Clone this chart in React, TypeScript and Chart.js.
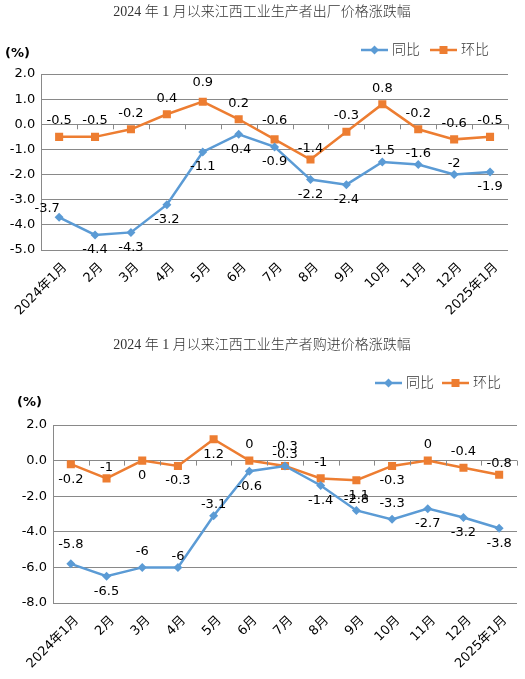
import { useEffect, useRef } from 'react';
import { Chart, registerables } from 'chart.js';

Chart.register(...registerables);

// categories
const months = ['2024年1月', '2月', '3月', '4月', '5月', '6月', '7月', '8月', '9月', '10月', '11月', '12月', '2025年1月'];

// 出厂价格 (ex-factory prices), %
const exFactoryYoY = [-3.7, -4.4, -4.3, -3.2, -1.1, -0.4, -0.9, -2.2, -2.4, -1.5, -1.6, -2, -1.9];
const exFactoryMoM = [-0.5, -0.5, -0.2, 0.4, 0.9, 0.2, -0.6, -1.4, -0.3, 0.8, -0.2, -0.6, -0.5];

// 购进价格 (purchase prices), %
const purchaseYoY = [-5.8, -6.5, -6, -6, -3.1, -0.6, -0.3, -1.4, -2.8, -3.3, -2.7, -3.2, -3.8];
const purchaseMoM = [-0.2, -1, 0, -0.3, 1.2, 0, -0.3, -1, -1.1, -0.3, 0, -0.4, -0.8];

const seriesNames = ['同比', '环比'];

// where each value label sits relative to its point:
// a = above, ah = higher above, as = just above, b = below, al = above-left
const exFactoryYoYPos = ['al', 'b', 'b', 'b', 'b', 'b', 'b', 'b', 'b', 'as', 'as', 'as', 'b'];
const exFactoryMoMPos = ['a', 'a', 'a', 'a', 'ah', 'a', 'ah', 'as', 'a', 'a', 'a', 'a', 'a'];
const purchaseYoYPos = ['ah', 'b', 'a', 'as', 'as', 'b', 'as', 'b', 'as', 'a', 'b', 'b', 'b'];
const purchaseMoMPos = ['b', 'as', 'b', 'b', 'b', 'a', 'ah', 'a', 'b', 'b', 'a', 'a', 'as'];

const BLUE = '#5b9bd5';
const ORANGE = '#ed7d31';
const GRID = '#898989';
const SANS = "'DejaVu Sans', 'Noto Sans CJK SC', sans-serif";
const SERIF = "'Liberation Serif', 'Noto Sans CJK SC', serif";

const labelOffsets: Record<string, [number, number]> = {
    a: [0, -16],
    ah: [0, -19],
    as: [0, -11],
    b: [0, 15],
    al: [-12, -9],
};

// value labels, legend, title, unit and the small ticks on the zero line
const decorPlugin = {
    id: 'decor',
    afterDraw(chart: any, _args: any, opts: any) {
        const { ctx, chartArea, scales } = chart;
        ctx.save();

        // ticks on the zero line at category boundaries
        const y0 = scales.y.getPixelForValue(0);
        const n = chart.data.labels.length;
        const step = chartArea.width / n;
        ctx.strokeStyle = GRID;
        ctx.lineWidth = 1;
        ctx.beginPath();
        for (let i = 0; i <= n; i++) {
            const x = Math.round(chartArea.left + i * step) + 0.5;
            ctx.moveTo(x, y0);
            ctx.lineTo(x, y0 + 5);
        }
        ctx.stroke();

        // value labels
        ctx.font = `13px ${SANS}`;
        ctx.fillStyle = '#000';
        ctx.textAlign = 'center';
        ctx.textBaseline = 'middle';
        chart.data.datasets.forEach((ds: any, di: number) => {
            const meta = chart.getDatasetMeta(di);
            const pos = opts.labelPos[di];
            meta.data.forEach((pt: any, i: number) => {
                const [dx, dy] = labelOffsets[pos[i]];
                ctx.fillText(String(ds.data[i]), pt.x + dx, pt.y + dy);
            });
        });

        // title
        ctx.font = `300 14px ${SERIF}`;
        ctx.fillStyle = '#333';
        ctx.fillText(opts.title, opts.titleX, opts.titleY);

        // unit
        ctx.font = `bold 13px ${SANS}`;
        ctx.fillStyle = '#000';
        ctx.textAlign = 'left';
        ctx.fillText('(%)', opts.unitX, opts.unitY);

        // legend
        chart.data.datasets.forEach((ds: any, di: number) => {
            const x = opts.legendX[di];
            const y = opts.legendY;
            ctx.strokeStyle = ds.borderColor;
            ctx.fillStyle = ds.borderColor;
            ctx.lineWidth = 2.5;
            ctx.beginPath();
            ctx.moveTo(x, y);
            ctx.lineTo(x + 27, y);
            ctx.stroke();
            const mx = x + 13.5;
            ctx.beginPath();
            if (ds.pointStyle === 'rect') {
                ctx.rect(mx - 4, y - 4, 8, 8);
            } else {
                ctx.moveTo(mx, y - 4.5);
                ctx.lineTo(mx + 4.5, y);
                ctx.lineTo(mx, y + 4.5);
                ctx.lineTo(mx - 4.5, y);
                ctx.closePath();
            }
            ctx.fill();
            ctx.font = `300 14px ${SERIF}`;
            ctx.fillStyle = '#333';
            ctx.textAlign = 'left';
            ctx.fillText(ds.label, x + 31, y);
        });

        ctx.restore();
    },
};

interface PanelProps {
    top: number,
    height: number,
    yoy: number[],
    mom: number[],
    yMin: number,
    yMax: number,
    yStep: number,
    padding: { top: number, right: number },
    yWidth: number,
    xHeight: number,
    decor: any,
}

const PricePanel = (props: PanelProps) => {
    const canvasRef = useRef<HTMLCanvasElement>(null);

    useEffect(() => {
        const ctx = canvasRef.current?.getContext('2d');
        if (!ctx) return;

        const chart = new Chart(ctx, {
            type: 'line',
            data: {
                labels: months,
                datasets: [
                    {
                        label: seriesNames[0],
                        data: props.yoy,
                        borderColor: BLUE,
                        backgroundColor: BLUE,
                        borderWidth: 2.5,
                        pointStyle: 'rectRot',
                        pointRadius: 4.5,
                        pointBorderWidth: 0,
                        tension: 0,
                    },
                    {
                        label: seriesNames[1],
                        data: props.mom,
                        borderColor: ORANGE,
                        backgroundColor: ORANGE,
                        borderWidth: 2.5,
                        pointStyle: 'rect',
                        pointRadius: 5.7,
                        pointBorderWidth: 0,
                        tension: 0,
                    },
                ],
            },
            options: {
                responsive: false,
                animation: false,
                layout: { padding: { top: props.padding.top, right: props.padding.right, left: 0, bottom: 0 } },
                scales: {
                    x: {
                        offset: true,
                        grid: { display: false, drawTicks: false },
                        border: { display: false },
                        ticks: {
                            autoSkip: false,
                            minRotation: 45,
                            maxRotation: 45,
                            padding: 10,
                            labelOffset: 6,
                            color: '#000',
                            font: { family: SANS, size: 13 },
                        },
                        afterFit: (s: any) => { s.height = props.xHeight; },
                    },
                    y: {
                        min: props.yMin,
                        max: props.yMax,
                        ticks: {
                            stepSize: props.yStep,
                            padding: 6,
                            color: '#000',
                            font: { family: SANS, size: 13 },
                            callback: (v: any) => Number(v).toFixed(1),
                        },
                        grid: { color: GRID, drawTicks: false },
                        border: { display: true, color: GRID },
                        afterFit: (s: any) => { s.width = props.yWidth; },
                    },
                },
                plugins: {
                    legend: { display: false },
                    title: { display: false },
                    tooltip: { enabled: false },
                    decor: props.decor,
                } as any,
            },
            plugins: [decorPlugin],
        });

        return () => {
            chart.destroy();
        };
    }, []);

    return (
        <div style={{ position: 'absolute', left: 0, top: props.top, width: 525, height: props.height }}>
            <canvas ref={canvasRef} width={525} height={props.height} style={{ width: 525, height: props.height }} />
        </div>
    );
};

export default function App() {
    return (
        <div style={{ position: 'absolute', left: 0, top: 0, width: 525, height: 679, background: '#fff' }}>
            <PricePanel
                top={0}
                height={335}
                yoy={exFactoryYoY}
                mom={exFactoryMoM}
                yMin={-5}
                yMax={2}
                yStep={1}
                padding={{ top: 74, right: 17 }}
                yWidth={39}
                xHeight={85}
                decor={{
                    title: '2024 年 1 月以来江西工业生产者出厂价格涨跌幅',
                    titleX: 262,
                    titleY: 12,
                    unitX: 5,
                    unitY: 54,
                    legendX: [361, 430],
                    legendY: 50,
                    labelPos: [exFactoryYoYPos, exFactoryMoMPos],
                }}
            />
            <PricePanel
                top={335}
                height={344}
                yoy={purchaseYoY}
                mom={purchaseMoM}
                yMin={-8}
                yMax={2}
                yStep={2}
                padding={{ top: 90, right: 8 }}
                yWidth={53}
                xHeight={76}
                decor={{
                    title: '2024 年 1 月以来江西工业生产者购进价格涨跌幅',
                    titleX: 262,
                    titleY: 10,
                    unitX: 17,
                    unitY: 68,
                    legendX: [375, 442],
                    legendY: 48,
                    labelPos: [purchaseYoYPos, purchaseMoMPos],
                }}
            />
        </div>
    );
}
